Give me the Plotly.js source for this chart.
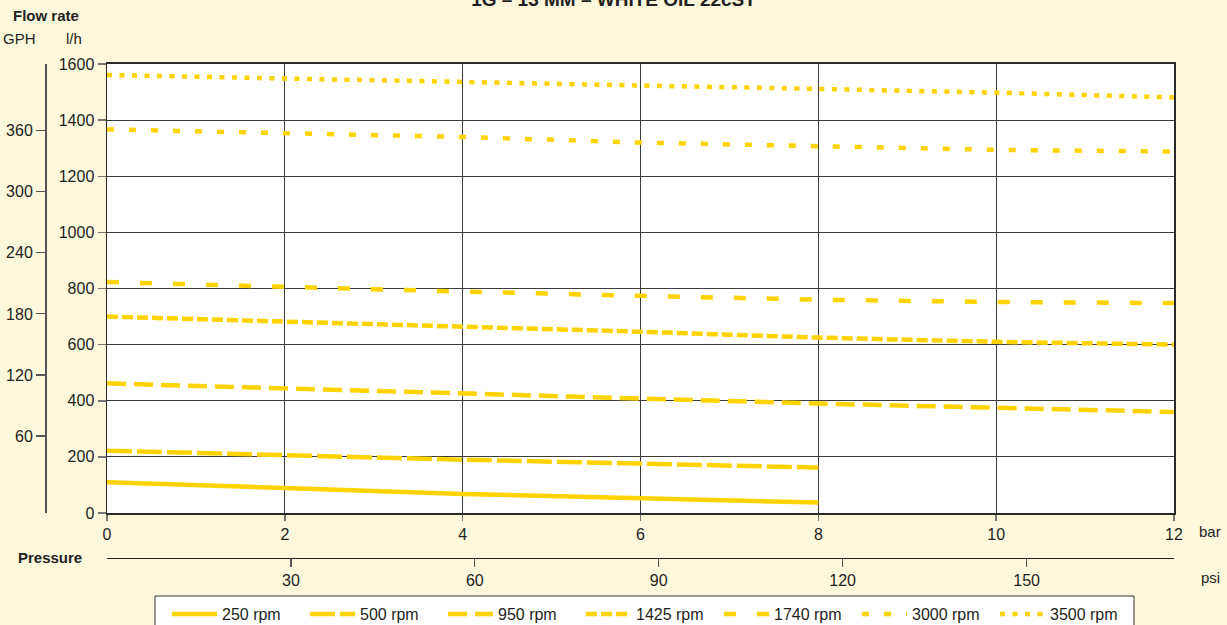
<!DOCTYPE html>
<html>
<head>
<meta charset="utf-8">
<script src="https://cdn.plot.ly/plotly-3.0.1.min.js"></script>
<style>html,body{margin:0;padding:0;background:#FDF7DB;}#chart{width:1227px;height:625px;}</style>
</head>
<body>
<div id="chart"></div>
<script>
// Pressure in bar
const pressureBar = [0, 2, 4, 6, 8, 10, 12];
const pressureBarShort = [0, 2, 4, 6, 8];
// Flow rate in l/h per pump speed
const seriesNames = ['250 rpm', '500 rpm', '950 rpm', '1425 rpm', '1740 rpm', '3000 rpm', '3500 rpm'];
const flow250 = [110, 89, 68, 53, 37];
const flow500 = [222, 205, 190, 176, 162];
const flow950 = [462, 445, 428, 408, 390, 375, 360];
const flow1425 = [700, 682, 666, 646, 625, 610, 600];
const flow1740 = [823, 805, 789, 774, 760, 752, 748];
const flow3000 = [1367, 1352, 1340, 1320, 1305, 1294, 1288];
const flow3500 = [1561, 1549, 1539, 1525, 1511, 1498, 1481];
// Tick labels
const barTicks = [0, 2, 4, 6, 8, 10, 12];
const psiTicks = [30, 60, 90, 120, 150];
const lhTicks = [0, 200, 400, 600, 800, 1000, 1200, 1400, 1600];
const gphTicks = [60, 120, 180, 240, 300, 360];
// GPH scale as printed on the reference (range)
const gphRange = [-15.6, 425.5];

const PSI_PER_BAR = 14.5038;
const FONT = '"Liberation Sans Narrow", "Arial Narrow", "Liberation Sans", Arial, sans-serif';
const GOLD = '#FFD300';
const TXT = '#231F20';
const dashes = ['solid', '25px,5px', '19px,8px', '11px,4px', '12px,21px', '7px,15px', '5px,7.5px'];
const xs = [pressureBarShort, pressureBarShort, pressureBar, pressureBar, pressureBar, pressureBar, pressureBar];
const ys = [flow250, flow500, flow950, flow1425, flow1740, flow3000, flow3500];

const traces = seriesNames.map((n, i) => ({
  type: 'scatter', mode: 'lines', name: n,
  x: xs[i], y: ys[i],
  line: {color: GOLD, width: 4.5, dash: dashes[i]},
  hoverinfo: 'skip'
}));
// empty helper trace so the secondary (psi / GPH) axes are drawn
traces.push({type: 'scatter', mode: 'lines', x: [], y: [], xaxis: 'x2', yaxis: 'y2', showlegend: false, hoverinfo: 'skip'});

const W = 1227, H = 625;
const mL = 45, mR = 53, mT = 64, mB = 67;
const plotW = W - mL - mR, plotH = H - mT - mB;
const xStart = (107 - mL) / plotW;
const yStart = (558 - 513) / plotH;
const px = v => (v - mL) / plotW;
const py = v => (H - mB - v) / plotH;

const layout = {
  width: W, height: H,
  paper_bgcolor: '#FDF7DB', plot_bgcolor: '#FFFFFF',
  margin: {l: mL, r: mR, t: mT, b: mB, pad: 0},
  font: {family: FONT, size: 16, color: TXT},
  showlegend: true,
  title: {text: '<b>1G – 13 MM – WHITE OIL 22cST</b>', font: {family: FONT, size: 19, color: TXT},
          x: 0.5, xanchor: 'center', xref: 'container', yref: 'container', y: 1 - 6 / H, yanchor: 'bottom'},
  xaxis: {
    domain: [xStart, 1], range: [0, 12], tickvals: barTicks, ticktext: barTicks.map(String),
    showgrid: true, gridcolor: '#3c3c3c', gridwidth: 1.2, zeroline: false,
    showline: true, linecolor: '#2a2a2a', linewidth: 2, mirror: true,
    ticks: 'outside', ticklen: 6, tickcolor: '#777', tickwidth: 1.5,
    tickfont: {family: FONT, size: 16, color: TXT}, fixedrange: true
  },
  yaxis: {
    domain: [yStart, 1], range: [0, 1600], tickvals: lhTicks, ticktext: lhTicks.map(String),
    showgrid: true, gridcolor: '#3c3c3c', gridwidth: 1.2, zeroline: false,
    showline: true, linecolor: '#2a2a2a', linewidth: 1.5, mirror: true,
    ticks: 'outside', ticklen: 8, tickcolor: '#777', tickwidth: 1.5,
    tickfont: {family: FONT, size: 16, color: TXT}, fixedrange: true
  },
  xaxis2: {
    overlaying: 'x', anchor: 'free', position: 0, side: 'bottom',
    range: [0, 12 * PSI_PER_BAR], tickvals: psiTicks, ticktext: psiTicks.map(String),
    showgrid: false, zeroline: false, showline: true, linecolor: '#222', linewidth: 1.2,
    ticks: 'outside', ticklen: 8, tickcolor: '#555', tickwidth: 1.2,
    tickfont: {family: FONT, size: 16, color: TXT}, fixedrange: true
  },
  yaxis2: {
    overlaying: 'y', anchor: 'free', position: 0, side: 'left',
    range: gphRange, tickvals: gphTicks, ticktext: gphTicks.map(String),
    showgrid: false, zeroline: false, showline: true, linecolor: '#555', linewidth: 1.5,
    ticks: 'outside', ticklen: 9, tickcolor: '#555', tickwidth: 1.2,
    tickfont: {family: FONT, size: 16, color: TXT}, fixedrange: true
  },
  legend: {
    orientation: 'h', xref: 'container', yref: 'container',
    x: 167 / W, xanchor: 'left', y: 1 - 597 / H, yanchor: 'top',
    bgcolor: 'rgba(0,0,0,0)', borderwidth: 0,
    font: {family: FONT, size: 16, color: TXT},
    entrywidth: 78, entrywidthmode: 'pixels', itemwidth: 45
  },
  shapes: [{
    type: 'rect', xref: 'paper', yref: 'paper', layer: 'above',
    x0: px(155), x1: px(1134), y0: py(596), y1: py(660),
    fillcolor: '#FFFFFF', line: {color: '#333', width: 1}
  }],
  annotations: [
    {text: '<b>Flow rate</b>', x: 46, y: 16},
    {text: 'GPH', x: 19, y: 39},
    {text: 'l/h', x: 74, y: 39},
    {text: '<b>Pressure</b>', x: 50, y: 557},
    {text: 'bar', x: 1210, y: 531},
    {text: 'psi', x: 1211, y: 577}
  ].map(a => ({
    text: a.text, xref: 'paper', yref: 'paper', x: px(a.x), y: py(a.y),
    xanchor: 'center', yanchor: 'middle', showarrow: false,
    font: {family: FONT, size: 15, color: TXT}
  }))
};

Plotly.newPlot('chart', traces, layout, {staticPlot: true, displayModeBar: false});
</script>
</body>
</html>
